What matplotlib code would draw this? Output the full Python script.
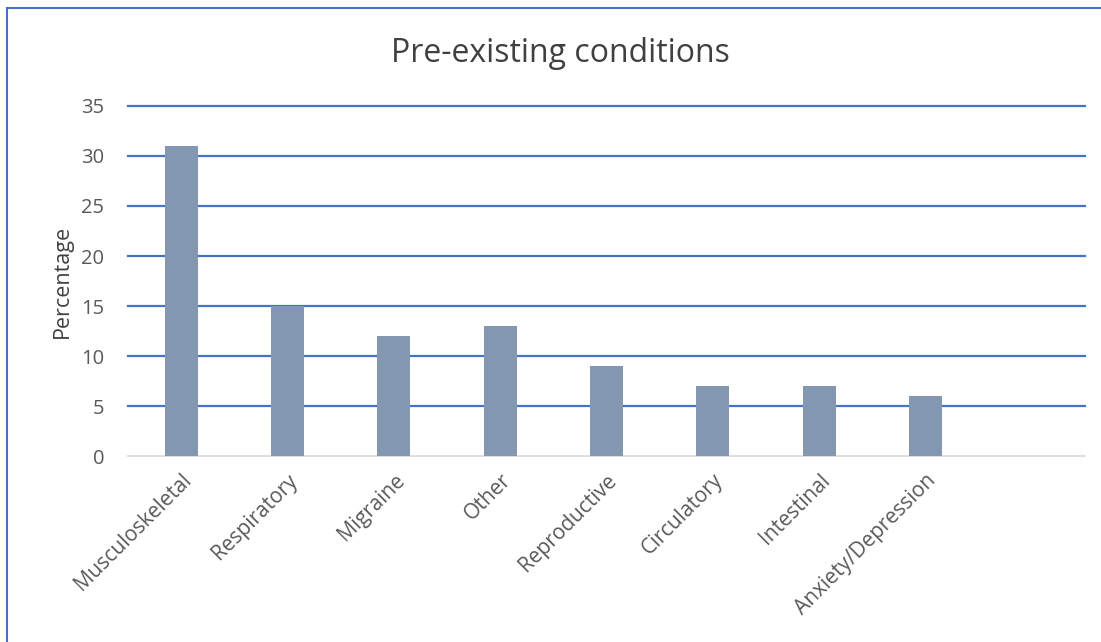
import matplotlib.pyplot as plt
from matplotlib.patches import Rectangle

categories = ["Musculoskeletal", "Respiratory", "Migraine", "Other", "Reproductive",
              "Circulatory", "Intestinal", "Anxiety/Depression", ""]
values = [31, 15, 12, 13, 9, 7, 7, 6, 0]
yticks = [0, 5, 10, 15, 20, 25, 30, 35]

plt.rcParams['font.family'] = ['Open Sans', 'DejaVu Sans']

fig = plt.figure(figsize=(11.01, 6.42), dpi=100)
ax = fig.add_axes([0.1163, 0.2897, 0.8692, 0.5452])

x = range(len(categories))
ax.bar(x, values, width=0.31, color="#8497B0", zorder=3)
ax.set_xlim(-0.5, len(categories) - 0.5)
ax.set_ylim(0, 35)
ax.set_yticks(yticks)
for t in yticks[1:]:
    ax.axhline(t, color="#4472C4", linewidth=1.6, zorder=2, clip_on=False)

ax.set_xticks(list(x))
ax.set_xticklabels(categories, rotation=45, ha="right", rotation_mode="anchor",
                   fontsize=15, color="#595959")
ax.tick_params(axis="x", length=0, labelsize=15, labelcolor="#595959", pad=10)
ax.tick_params(axis="y", length=0, labelsize=14.5, labelcolor="#595959", pad=17)
for s in ["top", "right", "left"]:
    ax.spines[s].set_visible(False)
ax.spines["bottom"].set_color("#D9D9D9")
ax.spines["bottom"].set_linewidth(1.2)

ax.set_ylabel("Percentage", fontsize=15.5, color="#404040", labelpad=6)
fig.text(0.509, 0.917, "Pre-existing conditions", ha="center", va="center",
         fontsize=23, color="#404040")

fig.patches.append(Rectangle((0.0068, -0.1), 1.2, 1.0869, transform=fig.transFigure,
                             fill=False, edgecolor="#4472C4", linewidth=1.5))

fig.savefig("out.png", dpi=100)
